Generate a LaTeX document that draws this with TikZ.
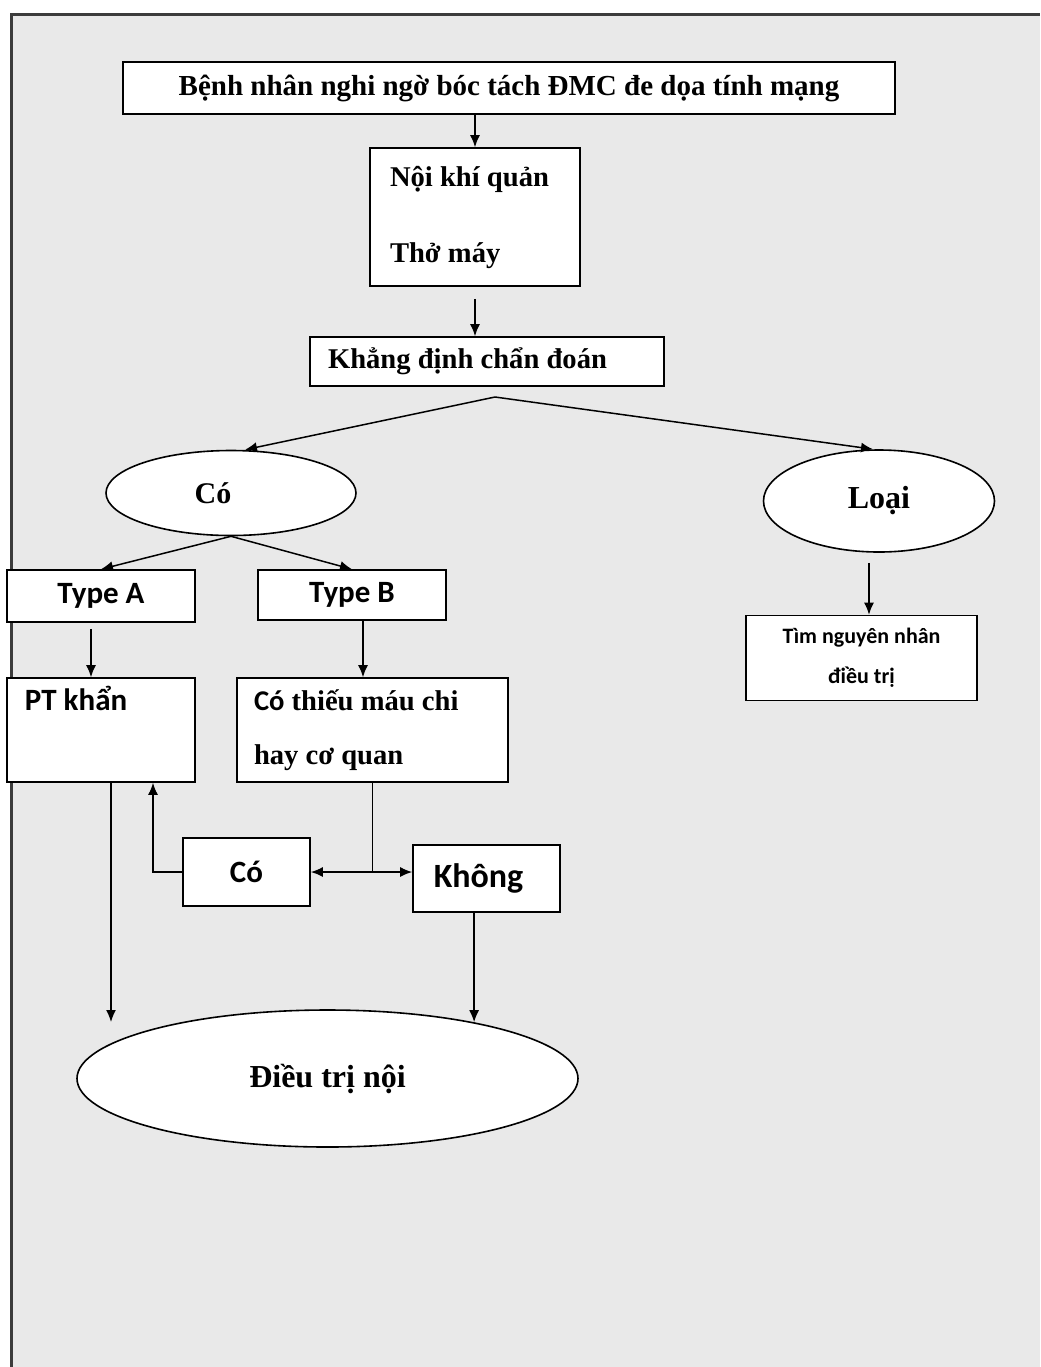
\documentclass[tikz,border=0pt]{standalone}
\usepackage{fontspec}
\setmainfont{Liberation Serif}
\newfontfamily\calibri{Carlito}
\usetikzlibrary{shapes.geometric, arrows.meta, positioning, calc}
\definecolor{panelgray}{RGB}{233,233,233}
\definecolor{framegray}{RGB}{60,60,60}

\begin{document}
\begin{tikzpicture}[x=0.5pt, y=-0.5pt,
    box/.style={draw, fill=white, line width=0.8pt, inner sep=0pt,
      font=\bfseries\fontsize{14.3}{17}\selectfont},
    oval/.style={draw, ellipse, fill=white, line width=0.8pt, inner sep=0pt,
      font=\bfseries\fontsize{15}{18}\selectfont},
    sansbox/.style={box, font=\calibri\bfseries\fontsize{15.5}{18}\selectfont},
    arr/.style={-{Latex[length=6pt,width=5pt]}, line width=0.75pt}]

  % page panel with its frame
  \useasboundingbox (0,0) rectangle (1040,1367);
  \fill[panelgray] (11,14) rectangle (1040,1367);
  \draw[framegray, line width=1.5pt] (11,1367) -- (11,14) -- (1040,14);

  % main column
  \node[box, minimum width=386pt, minimum height=26pt,
        font=\bfseries\fontsize{14.5}{17}\selectfont] (suspect) at (509,88)
    {Bệnh nhân nghi ngờ bóc tách ĐMC đe dọa tính mạng};
  \node[box, minimum width=105pt, minimum height=69pt, text width=85pt,
        inner xsep=10pt, align=flush left] (airway) at (475,217)
    {Nội khí quản\\[21pt]Thở máy};
  \node[box, minimum width=177pt, minimum height=24.5pt, text width=159pt,
        inner xsep=9pt, align=flush left] (confirm) at (487,361.5)
    {Khẳng định chẩn đoán};
  \coordinate (split) at (495,397);

  % yes / ruled out
  \node[oval, minimum width=125pt, minimum height=42.5pt] (yes) at (231,493)
    {\hspace*{-18pt}Có};
  \node[oval, minimum width=115.5pt, minimum height=51pt,
        font=\bfseries\fontsize{16}{19}\selectfont] (ruledout) at (879,501) {Loại};
  \node[box, minimum width=115.5pt, minimum height=42.5pt, align=center,
        font=\calibri\bfseries\fontsize{11}{20}\selectfont] (cause) at (861.5,658)
    {Tìm nguyên nhân\\điều trị};

  % type A / type B
  \node[sansbox, minimum width=94pt, minimum height=26pt] (typeA) at (101,596) {Type A};
  \node[sansbox, minimum width=94pt, minimum height=25pt] (typeB) at (352,595) {Type B};
  \node[sansbox, minimum width=94pt, minimum height=52pt] (surgery) at (101,730)
    {\parbox[c][44pt][t]{76pt}{PT khẩn}};
  \node[box, minimum width=135.5pt, minimum height=52pt, text width=118.5pt,
        inner xsep=8.5pt, align=flush left] (ischemia) at (372.5,730)
    {{\calibri Có} thiếu máu chi\\[10pt]hay cơ quan};
  \node[sansbox, minimum width=63.5pt, minimum height=34pt] (ischyes) at (246.5,872) {Có};
  \node[sansbox, minimum width=73.5pt, minimum height=33.5pt,
        font=\calibri\bfseries\fontsize{17}{20}\selectfont] (ischno) at (486.5,878.5)
    {\hspace*{-8pt}Không};
  \node[oval, minimum width=250.5pt, minimum height=68.5pt,
        font=\bfseries\fontsize{16}{19}\selectfont] (medical) at (327.5,1078.5)
    {\raisebox{3pt}{Điều trị nội}};

  \coordinate (fork) at (ischemia.south |- ischyes.east);
  \coordinate (surgeryend) at (111,1022);

  % connectors
  \draw[arr] (airway.north |- suspect.south) -- (airway.north);
  \draw[arr] ([yshift=-6pt]airway.south) -- (airway.south |- confirm.north);
  \draw[arr] (split) -- ([xshift=7pt]yes.north);
  \draw[arr] (split) -- ([xshift=-3pt]ruledout.north);
  \draw[arr] (yes.south) -- (typeA.north);
  \draw[arr] (yes.south) -- (typeB.north);
  \draw[arr] ([xshift=-5pt,yshift=-3pt]typeA.south) -- ([xshift=-5pt]surgery.north);
  \draw[arr] ([xshift=5.5pt]typeB.south) -- ([xshift=5.5pt]typeB.south |- ischemia.north);
  \draw[arr] ([xshift=-5pt,yshift=-5pt]ruledout.south) -- ([xshift=-5pt]ruledout.south |- cause.north);
  \draw[line width=0.75pt] (ischemia.south) -- (fork);
  \draw[arr] (fork) -- (ischyes.east);
  \draw[arr] (fork) -- (fork -| ischno.west);
  \draw[arr] (ischyes.west) -| ([xshift=26pt]surgery.south);
  \draw[arr] (surgeryend |- surgery.south) -- (surgeryend);
  \draw[arr] (medical.21 |- ischno.south) -- (medical.21);
\end{tikzpicture}
\end{document}
